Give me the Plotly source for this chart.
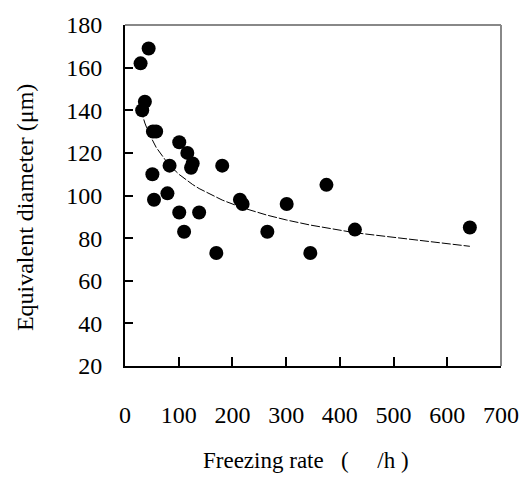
import numpy as np
import plotly.graph_objects as go

# Data
freezing_rate = [29, 44, 37, 32, 52, 58, 101, 116, 126, 123, 83, 181, 51, 79, 54,
                 214, 219, 101, 138, 110, 170, 265, 301, 375, 345, 428, 642]
diameter = [162, 169, 144, 140, 130, 130, 125, 120, 115, 113, 114, 114, 110, 101, 98,
            98, 96, 92, 92, 83, 73, 83, 96, 105, 73, 84, 85]

x_ticks = [0, 100, 200, 300, 400, 500, 600, 700]
y_ticks = [20, 40, 60, 80, 100, 120, 140, 160, 180]

# Power trendline fitted to the data (least squares in log-log space)
lx = np.log(np.array(freezing_rate, dtype=float))
ly = np.log(np.array(diameter, dtype=float))
b, ln_a = np.polyfit(lx, ly, 1)
trend_x = np.array(sorted(set(freezing_rate)), dtype=float)
trend_y = np.exp(ln_a) * trend_x ** b

FONT = "Liberation Serif"

fig = go.Figure()
fig.add_trace(go.Scatter(
    x=trend_x, y=trend_y, mode="lines",
    line=dict(color="black", width=1, dash="9px,2px"),
    hoverinfo="skip", showlegend=False,
))
fig.add_trace(go.Scatter(
    x=freezing_rate, y=diameter, mode="markers",
    marker=dict(color="black", size=14, line=dict(width=0)),
    showlegend=False,
))

fig.update_layout(
    width=531, height=477,
    margin=dict(l=125, r=19, t=16, b=111),
    paper_bgcolor="white", plot_bgcolor="white",
    font=dict(family=FONT, size=24, color="black"),
    showlegend=False,
    xaxis=dict(
        range=[0, 700], tickvals=x_ticks, ticktext=[str(v) for v in x_ticks],
        ticks="inside", ticklen=9, tickwidth=1.5, tickcolor="black",
        showline=True, linecolor="black", linewidth=2,
        showgrid=False, zeroline=False,
        ticklabelstandoff=26,
        tickfont=dict(family=FONT, size=24, color="black"),
    ),
    yaxis=dict(
        range=[20, 180], tickvals=y_ticks, ticktext=[str(v) for v in y_ticks],
        ticks="inside", ticklen=8, tickwidth=1.5, tickcolor="black",
        showline=True, linecolor="black", linewidth=2,
        showgrid=False, zeroline=False,
        ticklabelstandoff=16,
        tickfont=dict(family=FONT, size=24, color="black"),
    ),
    shapes=[
        dict(type="line", xref="paper", yref="paper", x0=0, x1=1, y0=1, y1=1,
             line=dict(color="#888888", width=2)),
        dict(type="line", xref="paper", yref="paper", x0=1, x1=1, y0=0, y1=1,
             line=dict(color="#888888", width=2)),
    ],
    annotations=[
        dict(text="Freezing rate\u00a0\u00a0\u00a0(\u00a0\u00a0\u00a0\u00a0\u00a0/h )",
             xref="paper", yref="paper", x=(311.5 - 125) / 387, y=(366 - 463) / 350,
             xanchor="center", yanchor="middle", showarrow=False,
             font=dict(family=FONT, size=23, color="black")),
        dict(text="Equivalent diameter (\u03bcm)",
             xref="paper", yref="paper", x=(22 - 125) / 387, y=(366 - 203) / 350,
             xanchor="center", yanchor="middle", showarrow=False, textangle=-90,
             font=dict(family=FONT, size=24, color="black")),
    ],
)

fig.write_html("out.html")
